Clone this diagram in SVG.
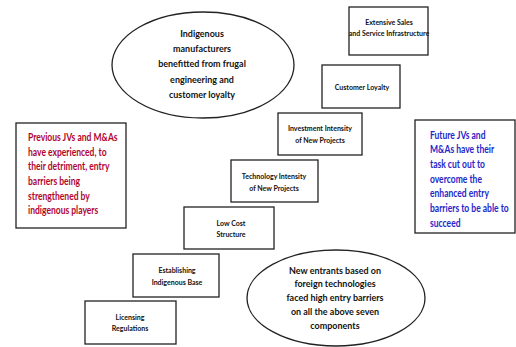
<svg xmlns="http://www.w3.org/2000/svg" width="516" height="347" viewBox="0 0 516 347">
<style>
text{font-family:Lato,"Liberation Sans",sans-serif;font-weight:bold;}
.sh{fill:#fff;stroke:#222;stroke-width:1.3;}
.el{font-size:10.2px;fill:#111;text-anchor:middle;}
.bx{font-size:7px;fill:#111;text-anchor:middle;}
.red{font-size:10.8px;fill:#b0052f;}
.blue{font-size:10.8px;fill:#2626c8;}
</style>
<rect width="516" height="347" fill="#fff"/>
<g id="top-ellipse">
<ellipse class="sh" cx="203" cy="65" rx="91" ry="53"/>
<g transform="translate(202,0) scale(0.88,1) translate(-202,0)">
<text class="el" x="202" y="37">Indigenous</text>
<text class="el" x="202" y="52">manufacturers</text>
<text class="el" x="202" y="67">benefitted from frugal</text>
<text class="el" x="202" y="83">engineering and</text>
<text class="el" x="202" y="98">customer loyalty</text>
</g>
</g>
<g id="extensive-sales">
<rect class="sh" x="349" y="7" width="79" height="48"/>
<text class="bx" x="389" y="25">Extensive Sales</text>
<text class="bx" x="389" y="36">and Service Infrastructure</text>
</g>
<g id="customer-loyalty">
<rect class="sh" x="322" y="65" width="78" height="43"/>
<text class="bx" x="362" y="90">Customer Loyalty</text>
</g>
<g id="investment-intensity">
<rect class="sh" x="278" y="113" width="84" height="42"/>
<text class="bx" x="320" y="131">Investment Intensity</text>
<text class="bx" x="320" y="143">of New Projects</text>
</g>
<g id="technology-intensity">
<rect class="sh" x="231" y="160" width="87" height="42"/>
<text class="bx" x="274" y="179">Technology Intensity</text>
<text class="bx" x="274" y="191">of New Projects</text>
</g>
<g id="low-cost">
<rect class="sh" x="184" y="207" width="90" height="42"/>
<text class="bx" x="231" y="226">Low Cost</text>
<text class="bx" x="231" y="237">Structure</text>
</g>
<g id="establishing">
<rect class="sh" x="133" y="254" width="86" height="43"/>
<text class="bx" x="177" y="273">Establishing</text>
<text class="bx" x="177" y="285">Indigenous Base</text>
</g>
<g id="licensing">
<rect class="sh" x="85" y="301" width="91" height="43"/>
<text class="bx" x="130" y="320">Licensing</text>
<text class="bx" x="130" y="331">Regulations</text>
</g>
<g id="previous-jvs">
<rect class="sh" x="16" y="123" width="110" height="105"/>
<g transform="translate(28,0) scale(0.79,1) translate(-28,0)">
<text class="red" x="28" y="141">Previous JVs and M&amp;As</text>
<text class="red" x="28" y="156">have experienced, to</text>
<text class="red" x="28" y="170">their detriment, entry</text>
<text class="red" x="28" y="185">barriers being</text>
<text class="red" x="28" y="200">strengthened by</text>
<text class="red" x="28" y="214">indigenous players</text>
</g>
</g>
<g id="future-jvs">
<rect class="sh" x="415" y="120" width="100" height="113"/>
<g transform="translate(430,0) scale(0.79,1) translate(-430,0)">
<text class="blue" x="430" y="139">Future JVs and</text>
<text class="blue" x="430" y="153">M&amp;As have their</text>
<text class="blue" x="430" y="168">task cut out to</text>
<text class="blue" x="430" y="183">overcome the</text>
<text class="blue" x="430" y="197">enhanced entry</text>
<text class="blue" x="430" y="212">barriers to be able to</text>
<text class="blue" x="430" y="227">succeed</text>
</g>
</g>
<g id="bottom-ellipse">
<ellipse class="sh" cx="336" cy="298" rx="89" ry="48"/>
<g transform="translate(335,0) scale(0.88,1) translate(-335,0)">
<text class="el" x="335" y="274">New entrants based on</text>
<text class="el" x="335" y="287">foreign technologies</text>
<text class="el" x="335" y="301">faced high entry barriers</text>
<text class="el" x="335" y="315">on all the above seven</text>
<text class="el" x="335" y="329">components</text>
</g>
</g>
<g id="connectors"></g>
</svg>
